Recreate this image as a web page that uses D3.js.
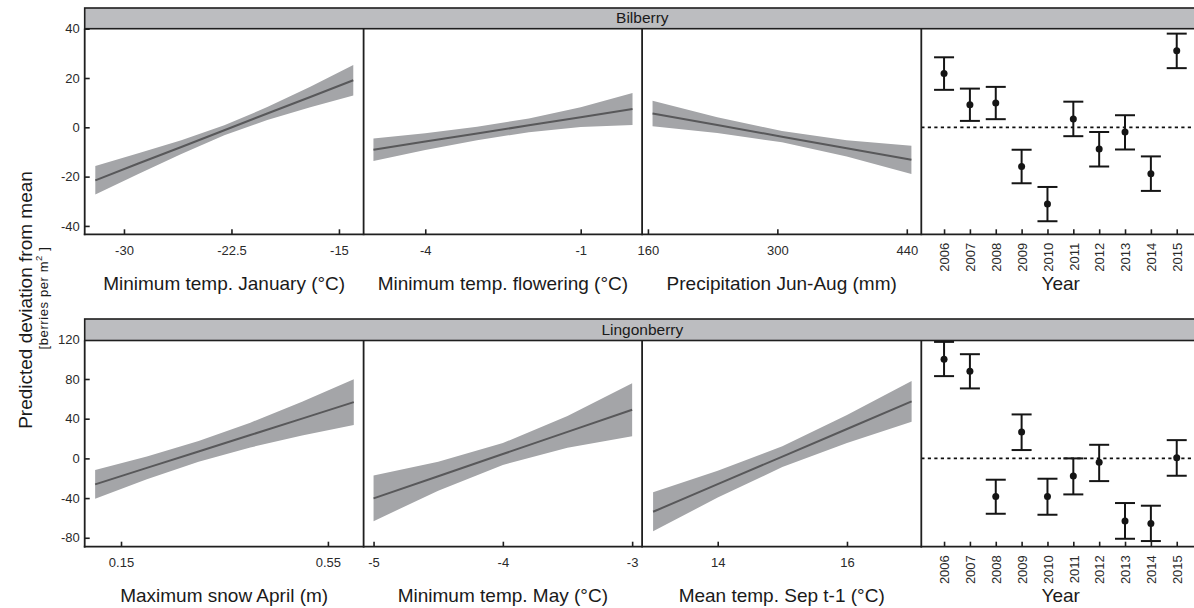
<!DOCTYPE html>
<html>
<head>
<meta charset="utf-8">
<script src="https://cdn.jsdelivr.net/npm/d3@7/dist/d3.min.js"></script>
<style>
  html, body { margin: 0; padding: 0; background: #fff; }
  svg { display: block; font-family: "Liberation Sans", Arial, Helvetica, sans-serif; }
</style>
</head>
<body>
<svg id="chart" width="1194" height="608"></svg>
<script>
// ---------------- DATA ----------------
const years = [2006, 2007, 2008, 2009, 2010, 2011, 2012, 2013, 2014, 2015];

// Bilberry effects
const bilJanX   = [-32, -29, -26, -23, -20, -17, -14];
const bilJanFit = [-21.5, -14.7, -8.0, -1.2, 5.6, 12.3, 19.1];
const bilJanLo  = [-27.3, -18.9, -10.8, -3.2, 3.0, 8.1, 12.9];
const bilJanHi  = [-15.7, -10.5, -5.2, 0.8, 8.2, 16.5, 25.3];

const bilFlowX   = [-5, -4, -3, -2, -1, 0];
const bilFlowFit = [-9.1, -5.8, -2.5, 0.8, 4.1, 7.4];
const bilFlowLo  = [-13.7, -9.2, -5.2, -2.0, 0.1, 0.9];
const bilFlowHi  = [-4.5, -2.4, 0.2, 3.6, 8.1, 13.9];

const bilPrecX   = [165, 235, 305, 375, 445];
const bilPrecFit = [5.6, 0.9, -3.8, -8.5, -13.2];
const bilPrecLo  = [0.4, -2.3, -6.1, -11.8, -18.9];
const bilPrecHi  = [10.8, 4.1, -1.5, -5.2, -7.5];

const bilYearMean = [21.8, 9.2, 9.9, -15.9, -31.1, 3.4, -8.8, -1.9, -18.8, 31.1];
const bilYearLo   = [15.2, 2.6, 3.3, -22.7, -38.1, -3.6, -15.9, -9.0, -25.8, 24.0];
const bilYearHi   = [28.4, 15.7, 16.4, -9.1, -24.2, 10.4, -1.9, 4.9, -11.8, 38.0];

// Lingonberry effects
const linSnowX   = [0.1, 0.2, 0.3, 0.4, 0.5, 0.6];
const linSnowFit = [-26.2, -9.6, 7.0, 23.5, 40.1, 56.7];
const linSnowLo  = [-40.7, -21.1, -3.5, 11.0, 23.1, 33.7];
const linSnowHi  = [-11.7, 1.9, 17.5, 36.0, 57.1, 79.7];

const linMayX   = [-5, -4.5, -4, -3.5, -3];
const linMayFit = [-40.3, -18.0, 4.4, 26.7, 49.0];
const linMayLo  = [-63.3, -32.5, -6.6, 10.7, 22.3];
const linMayHi  = [-17.3, -3.5, 15.4, 42.7, 75.7];

const linSepX   = [13, 14, 15, 16, 17];
const linSepFit = [-53.8, -26.0, 1.8, 29.6, 57.4];
const linSepLo  = [-73.4, -39.5, -8.7, 15.6, 36.8];
const linSepHi  = [-34.2, -12.5, 12.3, 43.6, 78.0];

const linYearMean = [100, 87.9, -38.3, 26.5, -38.3, -17.8, -4.0, -63.1, -65.5, 0.6];
const linYearLo   = [82.9, 70.5, -55.8, 8.4, -56.8, -36.3, -22.9, -81.0, -83.3, -17.5];
const linYearHi   = [117.4, 105.0, -21.5, 44.3, -20.5, 0.0, 13.7, -45.0, -47.7, 18.4];

// Axis ticks and labels
const bilYTicks = [-40, -20, 0, 20, 40];
const linYTicks = [-80, -40, 0, 40, 80, 120];
const bilJanTicks = [-30, -22.5, -15];
const bilFlowTicks = [-4, -1];
const bilPrecTicks = [160, 300, 440];
const linSnowTicks = [0.15, 0.55];
const linMayTicks = [-5, -4, -3];
const linSepTicks = [14, 16];

const stripLabels = ["Bilberry", "Lingonberry"];
const bilXTitles = ["Minimum temp. January (\u00B0C)", "Minimum temp. flowering (\u00B0C)", "Precipitation Jun-Aug (mm)", "Year"];
const linXTitles = ["Maximum snow April (m)", "Minimum temp. May (\u00B0C)", "Mean temp. Sep t-1 (\u00B0C)", "Year"];
const yTitle = "Predicted deviation from mean";

// ---------------- LAYOUT ----------------
const svg = d3.select("#chart");
const colX = [84.7, 363.6, 642.1, 921.3, 1200];
const rows = [
  { stripTop: 8, top: 28.7, bottom: 234.3, yDomain: [-43.4, 40], yTicks: bilYTicks },
  { stripTop: 319, top: 340.5, bottom: 546.7, yDomain: [-89, 118.8], yTicks: linYTicks }
];

const bandFill = "#a4a5a8";
const fitColor = "#58585a";
const stripFill = "#bcbdc0";
const frameColor = "#1f1f1f";
const tickFont = 13;
const titleFont = 19;

const fmt = v => String(v).replace("\u2212", "-");

const effectPanels = [
  [
    { x: bilJanX, fit: bilJanFit, lo: bilJanLo, hi: bilJanHi, domain: [-32.74, -13.28], ticks: bilJanTicks },
    { x: bilFlowX, fit: bilFlowFit, lo: bilFlowLo, hi: bilFlowHi, domain: [-5.19, 0.185], ticks: bilFlowTicks },
    { x: bilPrecX, fit: bilPrecFit, lo: bilPrecLo, hi: bilPrecHi, domain: [153.7, 455.7], ticks: bilPrecTicks }
  ],
  [
    { x: linSnowX, fit: linSnowFit, lo: linSnowLo, hi: linSnowHi, domain: [0.0798, 0.619], ticks: linSnowTicks },
    { x: linMayX, fit: linMayFit, lo: linMayLo, hi: linMayHi, domain: [-5.077, -2.923], ticks: linMayTicks },
    { x: linSepX, fit: linSepFit, lo: linSepLo, hi: linSepHi, domain: [12.83, 17.15], ticks: linSepTicks }
  ]
];
const yearPanels = [
  { mean: bilYearMean, lo: bilYearLo, hi: bilYearHi },
  { mean: linYearMean, lo: linYearLo, hi: linYearHi }
];
const xTitles = [bilXTitles, linXTitles];

rows.forEach((row, r) => {
  const g = svg.append("g");
  const y = d3.scaleLinear().domain(row.yDomain).range([row.bottom, row.top]);

  // effect panels
  effectPanels[r].forEach((p, c) => {
    const x = d3.scaleLinear().domain(p.domain).range([colX[c], colX[c + 1]]);
    const pts = p.x.map((v, i) => ({ x: v, fit: p.fit[i], lo: p.lo[i], hi: p.hi[i] }));
    g.append("path")
      .datum(pts)
      .attr("fill", bandFill)
      .attr("stroke", "none")
      .attr("d", d3.area().x(d => x(d.x)).y0(d => y(d.lo)).y1(d => y(d.hi)));
    g.append("path")
      .datum(pts)
      .attr("fill", "none")
      .attr("stroke", fitColor)
      .attr("stroke-width", 2)
      .attr("d", d3.line().x(d => x(d.x)).y(d => y(d.fit)));

    const ax = g.append("g")
      .attr("transform", `translate(0,${row.bottom})`)
      .call(d3.axisBottom(x).tickValues(p.ticks).tickSize(-5).tickSizeOuter(0).tickPadding(11).tickFormat(fmt));
    ax.select(".domain").remove();
    ax.selectAll(".tick line").attr("stroke", frameColor).attr("stroke-width", 1.6);
    ax.selectAll(".tick text").attr("font-size", tickFont).attr("fill", "#2a2a2a")
      .attr("font-family", "Liberation Sans, Arial, sans-serif");
  });

  // year panel
  const yp = yearPanels[r];
  const xy = d3.scaleLinear().domain([2005.12, 2015.9]).range([colX[3], colX[4]]);
  g.append("line")
    .attr("x1", colX[3]).attr("x2", colX[4])
    .attr("y1", y(0)).attr("y2", y(0))
    .attr("stroke", "#111").attr("stroke-width", 1.7)
    .attr("stroke-dasharray", "3.2,3.3");
  const yd = years.map((yr, i) => ({ yr, m: yp.mean[i], lo: yp.lo[i], hi: yp.hi[i] }));
  const eb = g.append("g").selectAll("g").data(yd).join("g");
  eb.append("line")
    .attr("x1", d => xy(d.yr)).attr("x2", d => xy(d.yr))
    .attr("y1", d => y(d.lo)).attr("y2", d => y(d.hi))
    .attr("stroke", "#151515").attr("stroke-width", 2);
  eb.append("line")
    .attr("x1", d => xy(d.yr) - 10).attr("x2", d => xy(d.yr) + 10)
    .attr("y1", d => y(d.lo)).attr("y2", d => y(d.lo))
    .attr("stroke", "#151515").attr("stroke-width", 2);
  eb.append("line")
    .attr("x1", d => xy(d.yr) - 10).attr("x2", d => xy(d.yr) + 10)
    .attr("y1", d => y(d.hi)).attr("y2", d => y(d.hi))
    .attr("stroke", "#151515").attr("stroke-width", 2);
  eb.append("circle")
    .attr("cx", d => xy(d.yr)).attr("cy", d => y(d.m))
    .attr("r", 3.5).attr("fill", "#151515");

  const axy = g.append("g")
    .attr("transform", `translate(0,${row.bottom})`)
    .call(d3.axisBottom(xy).tickValues(years).tickSize(-5).tickSizeOuter(0).tickFormat(d3.format("d")));
  axy.select(".domain").remove();
  axy.selectAll(".tick line").attr("stroke", frameColor).attr("stroke-width", 1.6);
  axy.selectAll(".tick text")
    .attr("font-size", tickFont).attr("fill", "#2a2a2a")
    .attr("transform", "rotate(-90)")
    .attr("text-anchor", "end")
    .attr("x", -8.5).attr("y", 0).attr("dy", "0.36em");

  // y axis
  const ayl = g.append("g")
    .attr("transform", `translate(${colX[0]},0)`)
    .call(d3.axisLeft(y).tickValues(row.yTicks).tickSize(-5).tickSizeOuter(0).tickPadding(5).tickFormat(fmt));
  ayl.select(".domain").remove();
  ayl.selectAll(".tick line").attr("stroke", frameColor).attr("stroke-width", 1.6);
  ayl.selectAll(".tick text").attr("font-size", tickFont).attr("fill", "#2a2a2a");

  // frame lines
  for (let c = 0; c < 4; c++) {
    g.append("line")
      .attr("x1", colX[c]).attr("x2", colX[c])
      .attr("y1", row.top).attr("y2", row.bottom + 0.9)
      .attr("stroke", frameColor).attr("stroke-width", 1.8);
  }
  g.append("line")
    .attr("x1", colX[0] - 0.9).attr("x2", colX[4])
    .attr("y1", row.bottom).attr("y2", row.bottom)
    .attr("stroke", frameColor).attr("stroke-width", 1.8);

  // strip
  g.append("rect")
    .attr("x", colX[0]).attr("y", row.stripTop)
    .attr("width", colX[4] - colX[0]).attr("height", row.top - row.stripTop)
    .attr("fill", stripFill).attr("stroke", frameColor).attr("stroke-width", 1.6);
  g.append("text")
    .attr("x", (colX[0] + colX[4]) / 2).attr("y", row.top - 5.4)
    .attr("text-anchor", "middle").attr("font-size", 15.5).attr("fill", "#1a1a1a")
    .text(stripLabels[r]);

  // x titles
  xTitles[r].forEach((t, c) => {
    g.append("text")
      .attr("x", (colX[c] + colX[c + 1]) / 2).attr("y", row.bottom + 55.5)
      .attr("text-anchor", "middle").attr("font-size", titleFont).attr("fill", "#1a1a1a")
      .text(t);
  });
});

// y title
svg.append("text")
  .attr("transform", "translate(32,300) rotate(-90)")
  .attr("text-anchor", "middle").attr("font-size", titleFont).attr("fill", "#1a1a1a")
  .text(yTitle);
const sub = svg.append("text")
  .attr("transform", "translate(47.5,298) rotate(-90)")
  .attr("text-anchor", "middle").attr("font-size", 13).attr("fill", "#1a1a1a")
  .attr("letter-spacing", 0.6);
sub.append("tspan").text("[berries per m");
sub.append("tspan").attr("font-size", 9.5).attr("dy", "-0.55em").text("2");
sub.append("tspan").attr("dy", "0.45em").text(" ]");
</script>
</body>
</html>
